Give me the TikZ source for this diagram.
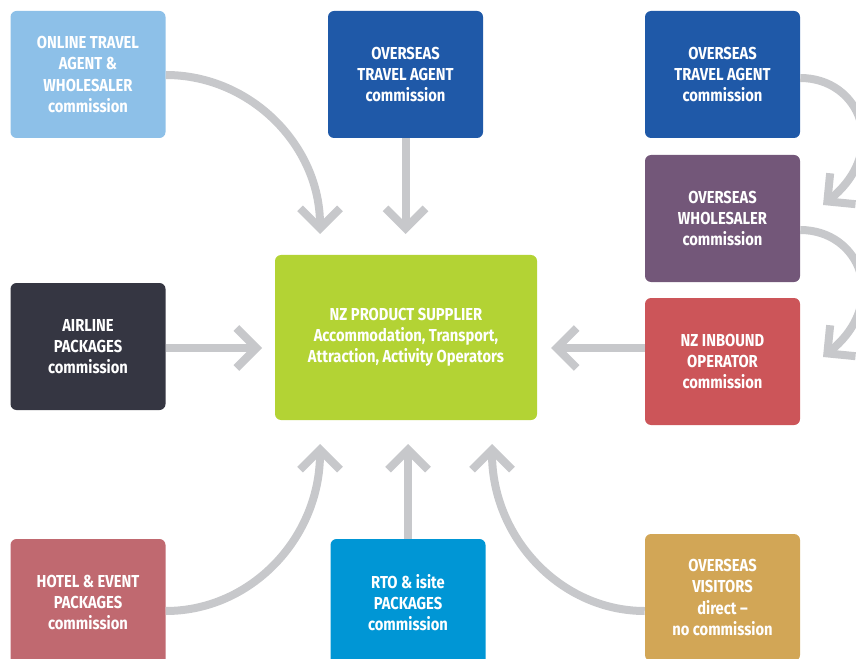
\documentclass[tikz,border=0pt]{standalone}
\usepackage{fontspec}
\setmainfont{Fira Sans}
\newfontfamily\boxfont[FakeStretch=0.85]{Fira Sans}
\usepackage{tikz}
\usetikzlibrary{arrows.meta}

\definecolor{arrowgray}{HTML}{C7C8CB}
\definecolor{onlineblue}{HTML}{8DC0E8}
\definecolor{overseasblue}{HTML}{1F59A8}
\definecolor{wholesalepurple}{HTML}{735779}
\definecolor{inboundred}{HTML}{CC5559}
\definecolor{airlinedark}{HTML}{353642}
\definecolor{suppliergreen}{HTML}{B3D334}
\definecolor{hotelrose}{HTML}{C06970}
\definecolor{rtoblue}{HTML}{0096D5}
\definecolor{visitorgold}{HTML}{D2A656}

\tikzset{
  flowbox/.style={rounded corners=4.5pt, minimum width=116.25pt, minimum height=95.25pt,
    inner sep=0pt, text=white, align=center,
    font=\boxfont\bfseries\fontsize{13}{15.9}\selectfont},
  flowarrow/.style={draw=arrowgray, line width=6pt, -{Straight Barb[length=15pt,width=30pt]}},
}

\begin{document}
\begin{tikzpicture}[x=0.75pt,y=0.75pt,yscale=-1,xscale=1]
\useasboundingbox (0,0) rectangle (856,659);

% Boxes
\node [flowbox, fill=onlineblue] (online) at (88,74.5) {ONLINE TRAVEL\\AGENT \&\\WHOLESALER\\commission};
\node [flowbox, fill=overseasblue] (agentmid) at (405.5,74.5) {OVERSEAS\\TRAVEL AGENT\\commission};
\node [flowbox, fill=overseasblue] (agentright) at (722.5,74.5) {OVERSEAS\\TRAVEL AGENT\\commission};
\node [flowbox, fill=wholesalepurple] (wholesaler) at (722.5,218.5) {OVERSEAS\\WHOLESALER\\commission};
\node [flowbox, fill=inboundred] (inbound) at (722.5,361.5) {NZ INBOUND\\OPERATOR\\commission};
\node [flowbox, fill=airlinedark] (airline) at (88,346.5) {AIRLINE\\PACKAGES\\commission};
\node [flowbox, fill=suppliergreen, minimum width=196.5pt, minimum height=123.75pt] (supplier) at (406,337.5) {NZ PRODUCT SUPPLIER\\Accommodation, Transport,\\Attraction, Activity Operators};
\node [flowbox, fill=hotelrose] (hotel) at (88,602.5) {HOTEL \& EVENT\\PACKAGES\\commission};
\node [flowbox, fill=rtoblue] (rto) at (408,602.5) {RTO \& isite\\PACKAGES\\commission};
\node [flowbox, fill=visitorgold] (visitors) at (722.5,597.5) {OVERSEAS\\VISITORS\\direct –\\no commission};

% Arrow ends
\coordinate (inonline) at (320,234);
\coordinate (inagent) at (405.5,234);
\coordinate (inwholesaler) at (823,205);
\coordinate (ininbound) at (823,357);
\coordinate (frominbound) at (551,348);
\coordinate (fromairline) at (262,348);
\coordinate (fromhotel) at (320,444);
\coordinate (fromrto) at (408,444);
\coordinate (fromvisitors) at (492,444);

%Curve Lines
\draw [flowarrow] (online.east |- 0,75) .. controls (251,75) and (320,146) .. (inonline);
%Straight Lines
\draw [flowarrow] (agentmid.south) -- (inagent);
%Curve Lines
\draw [flowarrow] (agentright.east |- 0,78) .. controls (860,78) and (890,150) .. (inwholesaler);
%Curve Lines
\draw [flowarrow] (wholesaler.east |- 0,230) .. controls (860,230) and (890,302) .. (ininbound);
%Straight Lines
\draw [flowarrow] (inbound.west |- 0,348) -- (frominbound);
%Straight Lines
\draw [flowarrow] (airline.east |- 0,348) -- (fromairline);
%Curve Lines
\draw [flowarrow] (hotel.east |- 0,611) .. controls (251,611) and (320,538) .. (fromhotel);
%Straight Lines
\draw [flowarrow] (rto.north) -- (fromrto);
%Curve Lines
\draw [flowarrow] (visitors.west |- 0,611) .. controls (561,611) and (492,538) .. (fromvisitors);
\end{tikzpicture}
\end{document}
